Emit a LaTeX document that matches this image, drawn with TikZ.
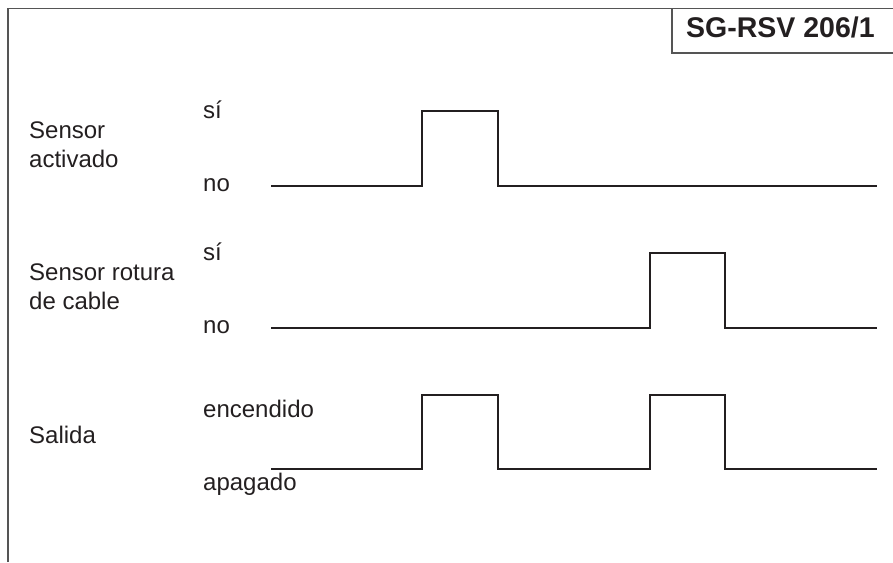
\documentclass[tikz,border=0pt]{standalone}
\usepackage{fontspec}
\setmainfont{Liberation Sans}
\definecolor{ink}{HTML}{231F20}
\definecolor{framegray}{HTML}{555555}
\begin{document}
\begin{tikzpicture}[x=1pt,y=-1pt,
  lbl/.style={anchor=base west,inner sep=0pt,font=\fontsize{24}{28}\selectfont,text=ink},
  title/.style={anchor=base west,inner sep=0pt,font=\fontsize{28.5}{32}\selectfont\bfseries,text=ink},
  signal/.style={draw=ink,line width=2.6pt,line join=miter,line cap=butt},
  frame/.style={draw=framegray,line width=1.4pt}]
\useasboundingbox (0,0) rectangle (893,562);
% outer frame (left and top edges)
\draw[frame] (8,562) -- (8,8.5) -- (893,8.5);
% title box
\draw[frame] (672,8.5) -- (672,53) -- (893,53);
\node[title] (ttl) at (686,37) {SG-RSV 206/1};
% signal names
\node[lbl] (s1a) at (29,138) {Sensor};
\node[lbl] (s1b) at (29,167) {activado};
\node[lbl] (s2a) at (29,280) {Sensor rotura};
\node[lbl] (s2b) at (29,309) {de cable};
\node[lbl] (s3) at (29,443) {Salida};
% level labels
\node[lbl] (h1) at (203,118) {sí};
\node[lbl] (l1) at (203,191) {no};
\node[lbl] (h2) at (203,260) {sí};
\node[lbl] (l2) at (203,333) {no};
\node[lbl] (h3) at (203,417) {encendido};
\node[lbl] (l3) at (203,490) {apagado};
% timing traces
\draw[signal] (271,186) -- (422,186) -- (422,111) -- (498,111) -- (498,186) -- (877,186);
\draw[signal] (271,328) -- (650,328) -- (650,253) -- (725,253) -- (725,328) -- (877,328);
\draw[signal] (271,469) -- (422,469) -- (422,395) -- (498,395) -- (498,469)
  -- (650,469) -- (650,395) -- (725,395) -- (725,469) -- (877,469);
\end{tikzpicture}
\end{document}
